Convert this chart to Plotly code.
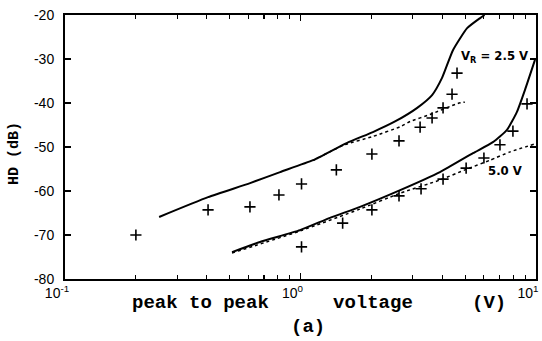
import plotly.graph_objects as go

# ---- data ----
vr25_meas_x = [0.20, 0.405, 0.61, 0.81, 1.01, 1.42, 2.01, 2.62, 3.22, 3.62, 4.03, 4.40, 4.62]
vr25_meas_y = [-70.0, -64.3, -63.6, -60.9, -58.4, -55.2, -51.6, -48.6, -45.5, -43.4, -41.1, -38.0, -33.2]

vr50_meas_x = [1.01, 1.51, 2.01, 2.62, 3.25, 4.03, 5.05, 6.01, 7.03, 7.98, 9.16]
vr50_meas_y = [-72.7, -67.3, -64.3, -61.1, -59.5, -57.3, -54.8, -52.5, -49.5, -46.4, -40.2]

vr25_solid_x = [0.251, 0.405, 0.611, 0.819, 1.13, 1.57, 2.03, 2.52, 3.13, 3.62, 3.99, 4.44, 5.10, 5.79, 6.05]
vr25_solid_y = [-65.9, -61.4, -58.2, -55.7, -53.0, -49.1, -46.6, -44.2, -41.1, -38.2, -34.3, -28.0, -23.0, -20.7, -20.0]

vr25_dot_x = [1.13, 1.52, 2.03, 2.65, 2.92, 3.55, 4.66, 4.99]
vr25_dot_y = [-53.1, -49.6, -47.6, -45.4, -44.2, -42.6, -40.1, -39.8]

vr50_solid_x = [0.512, 0.673, 0.995, 1.334, 1.79, 2.65, 3.91, 5.40, 6.56, 7.53, 8.30, 8.98, 9.90]
vr50_solid_y = [-73.9, -71.6, -68.9, -66.1, -63.6, -59.8, -55.7, -51.4, -48.9, -46.1, -42.0, -37.0, -30.2]

vr50_dot_x = [0.512, 0.995, 1.79, 2.65, 3.91, 4.99, 6.38, 7.76, 9.90]
vr50_dot_y = [-74.1, -69.1, -64.1, -60.5, -57.5, -55.2, -53.0, -51.1, -49.3]

y_ticks = [-80, -70, -60, -50, -40, -30, -20]
y_tick_text = ["-80", "-70", "-60", "-50", "-40", "-30", "-20"]
x_ticks = [0.1, 1, 10]
x_tick_text = ["10<sup>-1</sup>", "10<sup>0</sup>", "10<sup>1</sup>"]
x_minor = [0.2, 0.3, 0.4, 0.5, 0.6, 0.7, 0.8, 0.9, 2, 3, 4, 5, 6, 7, 8, 9]

W, H = 542, 341
L, R, T, B = 65, 6, 15, 62
PW, PH = W - L - R, H - T - B


def px(xp):
    return (xp - L) / PW


def py(yp):
    return (H - B - yp) / PH


fig = go.Figure()
solid = dict(color="black", width=2)
dot = dict(color="black", width=1.5, dash="dot")
sm = 0.5
fig.add_trace(go.Scatter(x=vr25_solid_x, y=vr25_solid_y, mode="lines", line=dict(**solid, shape="spline", smoothing=sm)))
fig.add_trace(go.Scatter(x=vr25_dot_x, y=vr25_dot_y, mode="lines", line=dict(**dot, shape="spline", smoothing=sm)))
fig.add_trace(go.Scatter(x=vr50_solid_x, y=vr50_solid_y, mode="lines", line=dict(**solid, shape="spline", smoothing=sm)))
fig.add_trace(go.Scatter(x=vr50_dot_x, y=vr50_dot_y, mode="lines", line=dict(**dot, shape="spline", smoothing=sm)))
mk = dict(symbol="cross-thin-open", size=8, color="black", line=dict(color="black", width=1.6))
fig.add_trace(go.Scatter(x=vr25_meas_x, y=vr25_meas_y, mode="markers", marker=mk))
fig.add_trace(go.Scatter(x=vr50_meas_x, y=vr50_meas_y, mode="markers", marker=mk))

tickfont = dict(family="Liberation Sans, Arial, sans-serif", size=14, color="black")
fig.update_xaxes(
    type="log", range=[-1, 1], showline=True, linecolor="black", linewidth=2, mirror="allticks",
    ticks="inside", ticklen=6, tickwidth=1.2, tickcolor="black", automargin=False,
    tickvals=x_ticks, ticktext=x_tick_text, tickfont=tickfont, ticklabelshift=-8,
    showgrid=False, zeroline=False,
    minor=dict(tickvals=x_minor, ticks="inside", ticklen=4, tickwidth=1.2, tickcolor="black", showgrid=False),
)
fig.update_yaxes(
    range=[-80, -20], showline=True, linecolor="black", linewidth=2, mirror="allticks",
    ticks="inside", ticklen=6, tickwidth=1.2, tickcolor="black", automargin=False,
    tickvals=y_ticks, ticktext=y_tick_text, tickfont=tickfont, ticklabelstandoff=6,
    showgrid=False, zeroline=False,
)

mono = "Liberation Mono, DejaVu Sans Mono, monospace"
narrow = "Liberation Sans Narrow, DejaVu Sans Condensed, Arial Narrow, sans-serif"
ann = [
    dict(text="peak to peak", x=px(200), y=py(303), font=dict(family=mono, size=19, weight="bold")),
    dict(text="voltage", x=px(373), y=py(303), font=dict(family=mono, size=19, weight="bold")),
    dict(text="(V)", x=px(489), y=py(303), font=dict(family=mono, size=19, weight="bold")),
    dict(text="(a)", x=px(308), y=py(327), font=dict(family=mono, size=19, weight="bold")),
    dict(text="HD (dB)", x=px(14), y=py(154), textangle=-90, font=dict(family=mono, size=15, weight="bold")),
    dict(text="V<sub>R</sub> = 2.5 V", x=px(494), y=py(57), font=dict(family=narrow, size=13, weight="bold")),
    dict(text="5.0 V", x=px(505), y=py(171), font=dict(family=narrow, size=13, weight="bold")),
]
for a in ann:
    a.update(xref="paper", yref="paper", xanchor="center", yanchor="middle", showarrow=False)
    a["font"]["color"] = "black"

fig.update_layout(
    width=W, height=H, margin=dict(l=L, r=R, t=T, b=B, pad=0, autoexpand=False),
    paper_bgcolor="white", plot_bgcolor="white", showlegend=False,
    annotations=ann,
)
fig.write_html(
    "out.html",
    config={"displayModeBar": False, "staticPlot": True},
    post_script="document.body.style.margin='0';document.body.style.padding='0';",
)
